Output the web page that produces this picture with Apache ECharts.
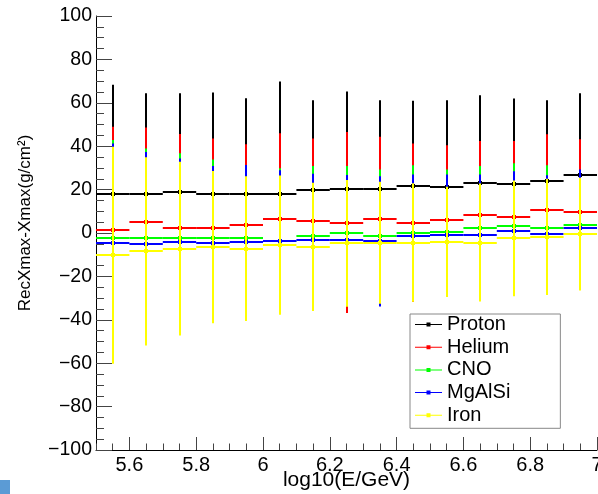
<!DOCTYPE html>
<html>
<head>
<meta charset="utf-8">
<script src="https://cdn.jsdelivr.net/npm/echarts@6/dist/echarts.min.js"></script>
<style>
html,body{margin:0;padding:0;background:#fff;}
#chart{width:598px;height:494px;}
</style>
</head>
<body>
<div id="chart"></div>
<script>
// ---- data ----
const binCenters = [5.55, 5.65, 5.75, 5.85, 5.95, 6.05, 6.15, 6.25, 6.35, 6.45, 6.55, 6.65, 6.75, 6.85, 6.95];
const binHalfWidth = 0.05;

const protonMean = [18.1, 18.2, 18.7, 18.1, 17.9, 18.2, 19.8, 20.2, 20.4, 21.5, 21.2, 23.2, 22.7, 24.1, 26.9];
const protonErr  = [50.2, 46.2, 45.7, 46.6, 44.2, 51.6, 41.4, 45.0, 40.8, 39.4, 40.0, 40.3, 39.3, 37.1, 37.5];

const heliumMean = [1.3, 5.0, 2.1, 2.1, 3.9, 6.4, 5.5, 4.8, 6.4, 4.8, 5.9, 8.2, 7.6, 10.5, 9.6];
const heliumErr  = [47.7, 43.6, 43.5, 41.5, 37.0, 39.6, 38.1, 41.7, 37.9, 36.5, 34.5, 34.2, 34.8, 35.0, 33.6];

const cnoMean = [-2.4, -2.1, -2.4, -2.5, -2.5, -3.5, -1.2, 0.2, -1.3, 0.1, 0.4, 2.5, 3.1, 2.5, 3.5];
const cnoErr  = [45.3, 41.0, 39.1, 36.4, 32.0, 33.3, 32.1, 30.7, 30.6, 31.1, 28.9, 28.4, 29.0, 28.7, 25.0];

const mgalsiMean = [-4.4, -5.2, -4.1, -4.4, -4.1, -3.6, -3.0, -3.3, -3.9, -1.5, -0.8, -0.7, 0.7, -0.4, 2.1];
const mgalsiErr  = [45.7, 42.5, 38.4, 35.3, 35.4, 32.5, 30.3, 30.0, 30.0, 28.5, 27.8, 27.7, 27.8, 27.0, 27.2];

const ironMean = [-10.2, -8.5, -7.2, -6.5, -7.2, -5.6, -6.4, -4.8, -4.5, -4.4, -4.1, -4.4, -2.5, -1.8, -0.5];
const ironErr  = [50.0, 43.4, 40.0, 35.1, 33.4, 32.1, 29.5, 29.2, 28.1, 27.3, 25.4, 27.2, 26.7, 26.8, 26.0];

const seriesNames = ['Proton', 'Helium', 'CNO', 'MgAlSi', 'Iron'];
const seriesColors = ['#000000', '#ff0000', '#00ff00', '#0000ff', '#ffff00'];

const xMajorTicks = [5.6, 5.8, 6.0, 6.2, 6.4, 6.6, 6.8, 7.0];

const FONT = '"Liberation Sans", Arial, Helvetica, sans-serif';

// ---- chart ----
function makeSeries(name, color, means, errs) {
  return {
    type: 'custom',
    name: name,
    xAxisIndex: 0,
    yAxisIndex: 0,
    itemStyle: { color: color },
    encode: { x: 0, y: 1 },
    data: binCenters.map((x, i) => [x, means[i], errs[i]]),
    renderItem: function (params, api) {
      const x = api.value(0), v = api.value(1), e = api.value(2);
      const p = api.coord([x, v]);
      const top = api.coord([x, v + e]);
      const bot = api.coord([x, v - e]);
      const l = api.coord([x - binHalfWidth, v]);
      const r = api.coord([x + binHalfWidth, v]);
      const px = Math.round(p[0]);
      const py = Math.round(p[1]);
      return {
        type: 'group',
        children: [
          { type: 'line', shape: { x1: l[0], y1: py, x2: r[0], y2: py }, style: { stroke: color, lineWidth: 2 } },
          { type: 'line', shape: { x1: px, y1: top[1], x2: px, y2: bot[1] }, style: { stroke: color, lineWidth: 2 } },
          { type: 'rect', shape: { x: px - 2, y: py - 2, width: 4, height: 4 }, style: { fill: color } }
        ]
      };
    }
  };
}

const means = [protonMean, heliumMean, cnoMean, mgalsiMean, ironMean];
const errs = [protonErr, heliumErr, cnoErr, mgalsiErr, ironErr];

const legendIcon = 'path://M0,1.5L27,1.5L27,2.5L0,2.5Z M11.5,0L15.5,0L15.5,4L11.5,4Z';

const chart = echarts.init(document.getElementById('chart'), null, { renderer: 'canvas' });
chart.setOption({
  animation: false,
  backgroundColor: '#ffffff',
  color: seriesColors,
  grid: { left: 96, right: 1, top: 16, bottom: 44, containLabel: false, outerBoundsMode: 'none' },
  legend: {
    orient: 'vertical',
    left: 410,
    top: 314,
    padding: [0.5, 50, 3, 5],
    itemGap: 2.7,
    itemWidth: 27,
    itemHeight: 4,
    borderColor: '#888',
    borderWidth: 1,
    backgroundColor: '#fff',
    data: seriesNames.map(n => ({ name: n, icon: legendIcon })),
    textStyle: { fontFamily: FONT, fontSize: 20, lineHeight: 20, color: '#000' }
  },
  xAxis: [
    {
      type: 'value', min: 5.5, max: 7, interval: 0.05,
      axisLine: { show: true, onZero: false, lineStyle: { color: '#000', width: 1 } },
      axisTick: { show: true, inside: true, length: 6.5, lineStyle: { color: '#444' } },
      axisLabel: { show: false },
      splitLine: { show: false }
    },
    {
      type: 'value', min: 5.5, max: 7, position: 'bottom',
      axisLine: { show: false, onZero: false },
      axisTick: { show: true, inside: true, length: 13, customValues: xMajorTicks, lineStyle: { color: '#444' } },
      axisLabel: {
        show: true, customValues: xMajorTicks, margin: 5,
        fontFamily: FONT, fontSize: 20, color: '#000',
        formatter: v => String(Math.round(v * 10) / 10)
      },
      splitLine: { show: false },
      name: 'log10(E/GeV)', nameLocation: 'middle', nameGap: 20, nameMoveOverlap: false,
      nameTextStyle: { fontFamily: FONT, fontSize: 21, color: '#000' }
    }
  ],
  yAxis: {
    type: 'value', min: -100, max: 100, interval: 20,
    axisLine: { show: true, onZero: false, lineStyle: { color: '#000', width: 1 } },
    axisTick: { show: true, inside: true, length: 16, lineStyle: { color: '#444' } },
    minorTick: { show: true, splitNumber: 4, length: 8, lineStyle: { color: '#444' } },
    axisLabel: {
      fontFamily: FONT, fontSize: 19.5, color: '#000', margin: 4,
      formatter: v => String(v).replace('-', '\u2212')
    },
    splitLine: { show: false },
    name: 'RecXmax-Xmax(g/cm\u00b2)', nameLocation: 'middle', nameGap: 62, nameMoveOverlap: false,
    nameTextStyle: { fontFamily: FONT, fontSize: 17, color: '#000', padding: [0, 0, 0, 20] }
  },
  graphic: [
    { type: 'rect', left: 0, top: 480, shape: { width: 10, height: 14 }, style: { fill: '#5b9bd5' }, silent: true }
  ],
  series: seriesNames.map((n, i) => makeSeries(n, seriesColors[i], means[i], errs[i]))
});
</script>
</body>
</html>
